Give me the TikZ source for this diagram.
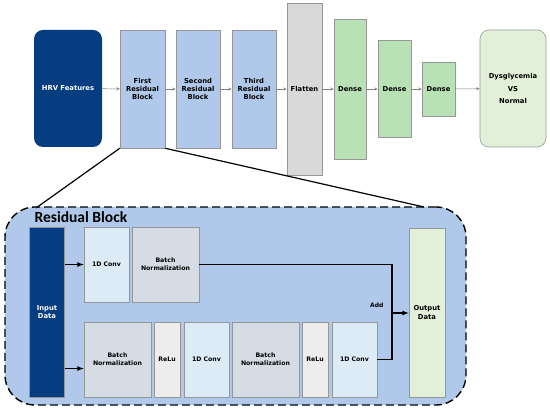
\documentclass[tikz,border=0pt]{standalone}
\usepackage{fontspec}
\setsansfont{DejaVu Sans}
\newfontfamily\headfont{Carlito}
\usetikzlibrary{arrows,positioning,calc}

\definecolor{hrvblue}{RGB}{4,62,128}
\definecolor{resblue}{RGB}{176,201,234}
\definecolor{flatgray}{RGB}{217,217,217}
\definecolor{densegreen}{RGB}{184,225,182}
\definecolor{outgreen}{RGB}{226,240,217}
\definecolor{convblue}{RGB}{221,235,247}
\definecolor{bngray}{RGB}{214,220,228}
\definecolor{relugray}{RGB}{237,237,237}
\definecolor{edgegray}{RGB}{150,150,150}

\tikzset{
  blk/.style={draw=edgegray, line width=0.6pt, inner sep=0pt, align=center,
    font=\sffamily\bfseries\fontsize{6.8}{8.4}\selectfont},
  sub/.style={blk, font=\sffamily\bfseries\fontsize{6.2}{8}\selectfont, minimum height=75pt},
  flow/.style={->, >=stealth, gray, line width=0.5pt},
  link/.style={line width=1.2pt, black},
}

\begin{document}
\begin{tikzpicture}[x=1pt, y=-1pt]
    \useasboundingbox (0,0) rectangle (550,411);
    % top row
    \node[blk, draw=none, fill=hrvblue, text=white, rounded corners=9pt, minimum width=68pt, minimum height=117pt] (hrv) at (68,88.5) {HRV Features};
    \node[blk, fill=resblue, minimum width=45pt, minimum height=118pt] (first) at (142.5,89) {First\\Residual\\Block};
    \node[blk, fill=resblue, minimum width=44pt, minimum height=118pt] (second) at (198,89) {Second\\Residual\\Block};
    \node[blk, fill=resblue, minimum width=44pt, minimum height=118pt] (third) at (254,89) {Third\\Residual\\Block};
    \node[blk, fill=flatgray, minimum width=35pt, minimum height=172pt] (flat) at (304.5,89) {Flatten};
    \node[blk, fill=densegreen, minimum width=32pt, minimum height=140pt] (dA) at (350,89) {Dense};
    \node[blk, fill=densegreen, minimum width=33pt, minimum height=97pt] (dB) at (394.5,89) {Dense};
    \node[blk, fill=densegreen, minimum width=33pt, minimum height=54pt] (dC) at (438.5,89) {Dense};
    \node[blk, fill=outgreen, rounded corners=9pt, minimum width=66pt, minimum height=117pt] (cls) at (513,88.5) {Dysglycemia\\[4.3pt]VS\\[4.3pt]Normal};
    \draw[flow] (hrv) -- (first);
    \draw[flow] (first) -- (second);
    \draw[flow] (second) -- (third);
    \draw[flow] (third) -- (flat);
    \draw[flow] (flat) -- (dA);
    \draw[flow] (dA) -- (dB);
    \draw[flow] (dB) -- (dC);
    \draw[flow] (dC) -- (cls);

    % residual block detail
    \node[draw, fill=resblue, rounded corners=30pt, dash pattern=on 8pt off 4pt, line width=1.4pt, minimum width=461pt, minimum height=198pt, inner sep=0pt] (res) at (235.5,306) {};
    \coordinate (zl) at (36,208);
    \coordinate (zr) at (424,207);
    \draw[link] (first.south west) -- (zl);
    \draw[link] (first.south east) -- (zr);
    \node[anchor=west, font=\headfont\bfseries\fontsize{15.5}{16}\selectfont] (title) at (31,217) {Residual Block};

    \node[blk, fill=hrvblue, text=white, minimum width=35pt, minimum height=170pt] (inp) at (47,312) {Input\\Data};
    \node[sub, fill=convblue, minimum width=45pt] (convA) at (106.5,264.5) {1D Conv};
    \node[sub, fill=bngray, minimum width=67pt] (bnA) at (165.5,264.5) {Batch\\Normalization};
    \node[sub, fill=bngray, minimum width=67pt] (bnB) at (117.5,359.5) {Batch\\Normalization};
    \node[sub, fill=relugray, minimum width=26pt] (reluA) at (167,359.5) {ReLu};
    \node[sub, fill=convblue, minimum width=45pt] (convB) at (206.5,359.5) {1D Conv};
    \node[sub, fill=bngray, minimum width=67pt] (bnC) at (265.5,359.5) {Batch\\Normalization};
    \node[sub, fill=relugray, minimum width=26pt] (reluB) at (315,359.5) {ReLu};
    \node[sub, fill=convblue, minimum width=45pt] (convC) at (354.5,359.5) {1D Conv};
    \node[blk, fill=outgreen, minimum width=36pt, minimum height=169pt] (outd) at (427,312.5) {Output\\Data};

    \coordinate (addpt) at (392,313);
    \draw[link, ->, >=latex] (inp.east |- convA.west) -- (convA.west);
    \draw[link, ->, >=latex] ([yshift=-9pt]inp.east |- bnB.west) -- ([yshift=-9pt]bnB.west);
    \draw[link] (bnA.east) -| (addpt);
    \draw[link] (convC.east) -| (addpt);
    \draw[link, ->, >=latex] (addpt) -- (outd.west |- addpt);
    \node[font=\sffamily\bfseries\fontsize{6}{7}\selectfont, anchor=south east] (addlbl) at (387,311) {Add};
\end{tikzpicture}
\end{document}
